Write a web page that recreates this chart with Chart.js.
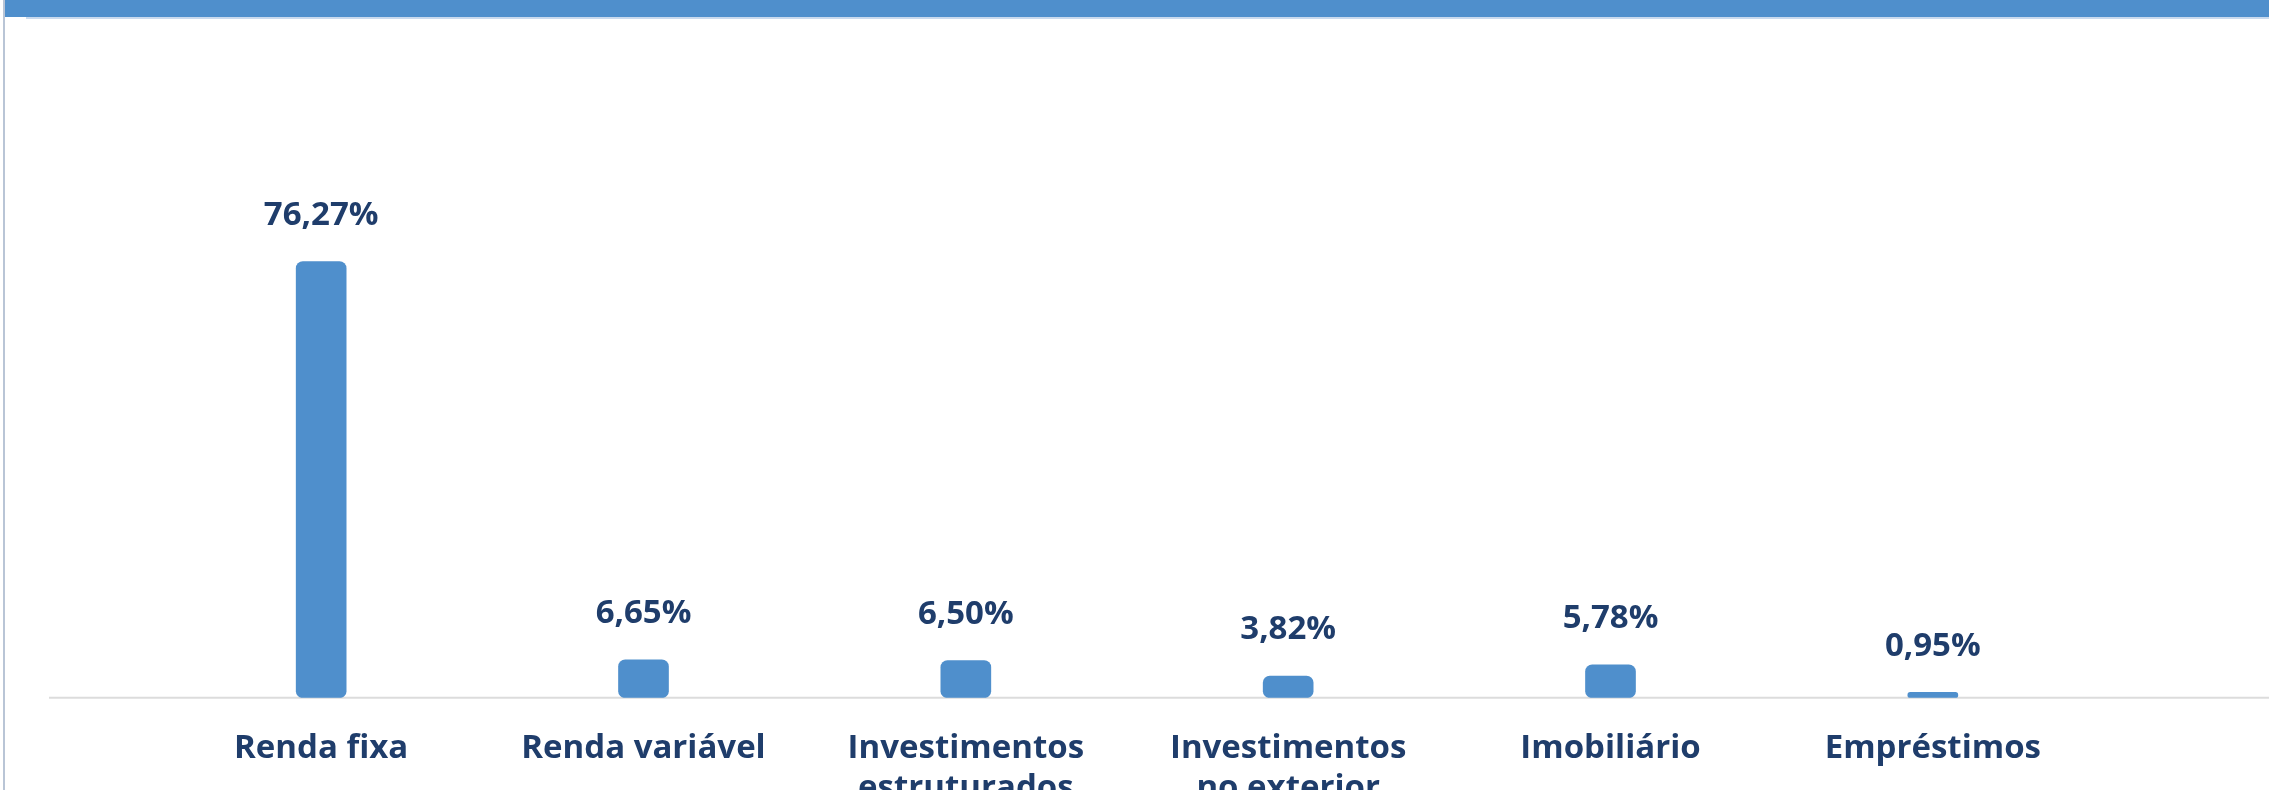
<!DOCTYPE html>
<html lang="pt-BR">
<head>
<meta charset="utf-8">
<title>Alocação por segmento</title>
<script src="https://cdn.jsdelivr.net/npm/chart.js@4.4.1/dist/chart.umd.min.js"></script>
<style>
    html, body {
        margin: 0;
        padding: 0;
        background: #ffffff;
        overflow: hidden;
        width: 2269px;
        height: 790px;
    }
    .left-rule {
        position: absolute;
        left: 3px;
        top: 0;
        width: 2px;
        height: 790px;
        background: #b9c5d6;
        z-index: 3;
    }
    .top-band {
        position: absolute;
        left: 5px;
        top: 0;
        right: 0;
        height: 17px;
        background: #4f8fcc;
        z-index: 2;
    }
    .top-band-line {
        position: absolute;
        left: 26px;
        top: 17px;
        right: 0;
        height: 2px;
        background: #c9daee;
        z-index: 2;
    }
    .chart-box {
        position: absolute;
        left: 0;
        top: 0;
        width: 2269px;
        height: 831px;
    }
</style>
</head>
<body>
<div class="left-rule"></div>
<div class="top-band"></div>
<div class="top-band-line"></div>
<div class="chart-box">
    <canvas id="allocationChart"></canvas>
</div>

<script>
// Segmentos e percentuais
const categories = [
    'Renda fixa',
    'Renda variável',
    ['Investimentos', 'estruturados'],
    ['Investimentos', 'no exterior'],
    'Imobiliário',
    'Empréstimos'
];
const percentValues = [76.27, 6.65, 6.50, 3.82, 5.78, 0.95];

const BAR_COLOR = '#4f8fcc';
const TEXT_COLOR = '#1f3d6b';
const FONT_FAMILY = '"Open Sans", "Noto Sans", sans-serif';

// Rótulos de valor acima de cada barra (formato brasileiro)
const valueLabels = {
    id: 'valueLabels',
    afterDatasetsDraw(chart) {
        const ctx = chart.ctx;
        const meta = chart.getDatasetMeta(0);
        ctx.save();
        ctx.fillStyle = TEXT_COLOR;
        ctx.font = '700 33px ' + FONT_FAMILY;
        ctx.textAlign = 'center';
        ctx.textBaseline = 'middle';
        meta.data.forEach((bar, i) => {
            const text = percentValues[i].toFixed(2).replace('.', ',') + '%';
            ctx.fillText(text, bar.x, bar.y - 46);
        });
        ctx.restore();
    }
};

// Linha de base que atravessa toda a largura
const baseLine = {
    id: 'baseLine',
    beforeDatasetsDraw(chart) {
        const ctx = chart.ctx;
        const y = chart.scales.y.getPixelForValue(0);
        ctx.save();
        ctx.strokeStyle = '#dcdcdc';
        ctx.lineWidth = 2;
        ctx.beginPath();
        ctx.moveTo(49, y);
        ctx.lineTo(chart.width, y);
        ctx.stroke();
        ctx.restore();
    }
};

const ctx = document.getElementById('allocationChart').getContext('2d');
const chart = new Chart(ctx, {
    type: 'bar',
    data: {
        labels: categories,
        datasets: [{
            data: percentValues,
            backgroundColor: BAR_COLOR,
            borderRadius: 7,
            borderSkipped: false,
            barThickness: 50
        }]
    },
    options: {
        responsive: true,
        maintainAspectRatio: false,
        animation: false,
        layout: {
            padding: { top: 183, left: 160, right: 175, bottom: 0 }
        },
        plugins: {
            legend: { display: false },
            tooltip: { enabled: false }
        },
        scales: {
            x: {
                grid: { display: false },
                border: { display: false },
                ticks: {
                    color: TEXT_COLOR,
                    padding: 22,
                    maxRotation: 0,
                    autoSkip: false,
                    font: { family: FONT_FAMILY, size: 33, weight: '700', lineHeight: 1.23 }
                }
            },
            y: {
                display: false,
                min: 0,
                max: 90
            }
        }
    },
    plugins: [baseLine, valueLabels]
});
</script>
</body>
</html>
